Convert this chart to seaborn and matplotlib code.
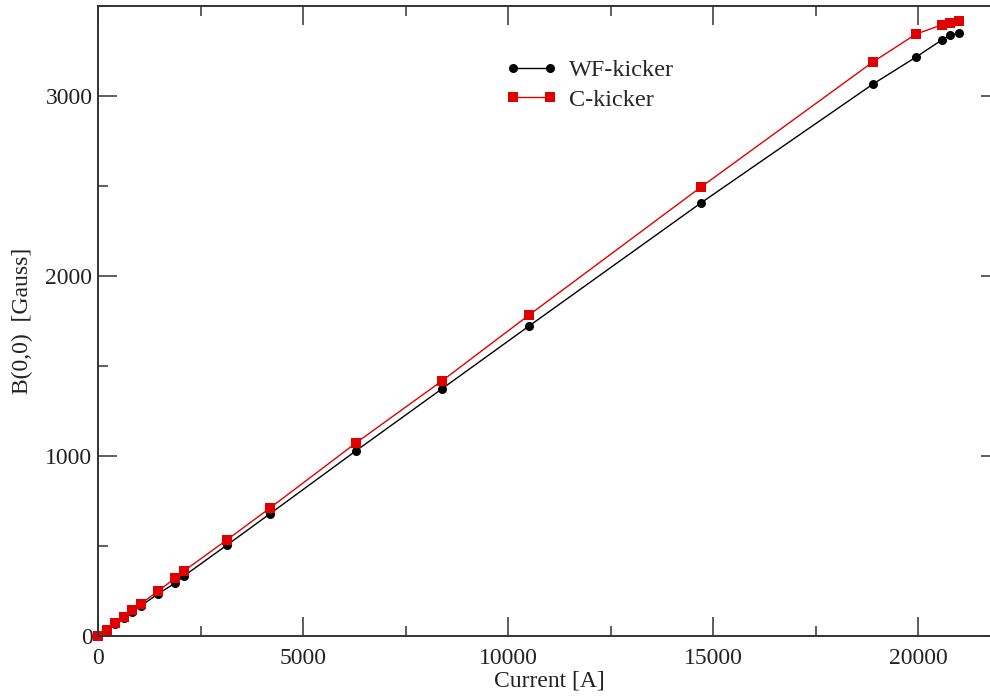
import matplotlib
matplotlib.use("Agg")
import matplotlib.pyplot as plt
import seaborn as sns
import pandas as pd
from matplotlib.ticker import MultipleLocator

current = [0, 210, 420, 630, 840, 1050, 1470, 1890, 2100, 3150, 4200,
           6300, 8400, 10500, 14700, 18900, 19950, 20580, 20790, 21000]
wf_kicker = [0, 34, 67, 101, 134, 168, 235, 295, 334, 506, 680,
             1030, 1375, 1720, 2405, 3066, 3216, 3311, 3339, 3350]
c_kicker = [0, 36, 72, 107, 143, 180, 250, 323, 362, 535, 712,
            1074, 1419, 1781, 2493, 3189, 3344, 3395, 3406, 3417]
series_names = ["WF-kicker", "C-kicker"]

df = pd.concat([
    pd.DataFrame({"Current": current, "B": wf_kicker, "Series": series_names[0]}),
    pd.DataFrame({"Current": current, "B": c_kicker, "Series": series_names[1]}),
])

sns.set_theme(style="ticks")
plt.rcParams["font.family"] = ["Liberation Serif", "DejaVu Serif"]

fig = plt.figure(figsize=(9.9, 6.96), dpi=100)
ax = fig.add_axes([98 / 990, 60 / 696, 902 / 990, 630 / 696])

sns.lineplot(data=df, x="Current", y="B", hue="Series", style="Series",
             palette={"WF-kicker": "black", "C-kicker": "#e00000"},
             markers={"WF-kicker": "o", "C-kicker": "s"},
             dashes=False, markersize=6.5, markeredgewidth=0,
             linewidth=1.0, ax=ax, clip_on=False, legend="brief")

ax.set_xlim(0, 22000)
ax.set_ylim(0, 3500)
ax.xaxis.set_major_locator(MultipleLocator(5000))
ax.xaxis.set_minor_locator(MultipleLocator(2500))
ax.yaxis.set_major_locator(MultipleLocator(1000))
ax.yaxis.set_minor_locator(MultipleLocator(500))
ax.tick_params(which="both", direction="in", top=True, right=True,
               width=1.1, color="#333333", labelsize=17, labelcolor="#222222")
ax.tick_params(which="major", length=13.7, pad=4)
ax.tick_params(which="minor", length=7)
ax.tick_params(axis="x", which="major", pad=9)
for s in ax.spines.values():
    s.set_linewidth(1.4)
    s.set_color("#333333")
    s.set_visible(True)

ax.set_xlabel("Current [A]", fontsize=17, color="#222222", labelpad=1)
ax.set_ylabel("B(0,0)  [Gauss]", fontsize=17, color="#222222", labelpad=9)

handles, labels = ax.get_legend_handles_labels()
ax.legend(handles, labels, loc="upper left", bbox_to_anchor=(0.428, 0.95),
          frameon=False, fontsize=17.5, handlelength=2.1, handletextpad=0.5,
          labelspacing=0.3, numpoints=2)

fig.savefig("out.png", dpi=100)
